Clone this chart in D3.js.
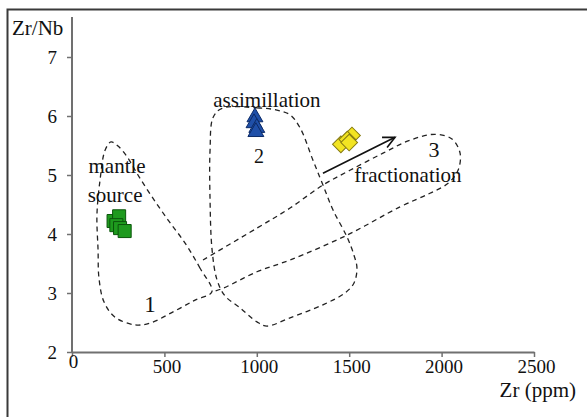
<!DOCTYPE html>
<html>
<head>
<meta charset="utf-8">
<script src="https://cdn.jsdelivr.net/npm/d3@7"></script>
<style>
  html, body { margin: 0; padding: 0; background: #fff; }
  svg { display: block; font-family: "Liberation Serif", "Times New Roman", serif; }
</style>
</head>
<body>
<div id="chart"></div>
<script>
// ---- data (Zr in ppm, Zr/Nb ratio) ----
const xTicks = [0, 500, 1000, 1500, 2000, 2500];
const yTicks = [2, 3, 4, 5, 6, 7];

const mantleZr    = [225, 255, 240, 260, 285];
const mantleRatio = [4.22, 4.30, 4.15, 4.10, 4.05];

const assimZr    = [990, 985, 1000, 995];
const assimRatio = [5.98, 5.88, 5.80, 5.73];

const fracZr    = [1455, 1515, 1490, 1500];
const fracRatio = [5.52, 5.67, 5.60, 5.55];

// dashed field outlines [Zr, Zr/Nb]
const field1 = [[757,3.02],[693,3.42],[611,3.85],[519,4.24],[433,4.63],[357,5.00],[298,5.31],
  [249,5.49],[211,5.56],[179,5.42],[152,4.92],[135,4.32],[141,3.73],[146,3.25],[173,2.85],
  [233,2.59],[341,2.46],[422,2.49],[547,2.68],[666,2.88]];
const field2 = [[812,6.13],[1001,6.14],[1109,6.10],[1180,6.02],[1234,5.80],[1304,5.25],[1358,4.83],
  [1412,4.41],[1488,3.95],[1526,3.64],[1542,3.42],[1526,3.17],[1477,3.00],[1358,2.80],[1180,2.58],
  [1055,2.44],[1001,2.51],[909,2.75],[828,2.95],[785,3.22],[758,3.73],[747,4.58],[747,5.42],[764,5.98]];
const field3 = [[709,3.56],[1001,4.10],[1180,4.44],[1358,4.83],[1504,5.08],[1683,5.37],[1829,5.59],
  [1965,5.69],[2056,5.61],[2100,5.37],[2089,5.08],[2035,4.86],[1937,4.69],[1775,4.46],[1488,3.98],
  [1180,3.56],[1001,3.36],[817,3.08],[757,3.02]];

const arrowFrom = [1358, 5.03];
const arrowTo   = [1748, 5.64];

const labels = [
  { text: "mantle", zr: 244, r: 5.03, size: 21 },
  { text: "source", zr: 233, r: 4.54, size: 21 },
  { text: "assimillation", zr: 1055, r: 6.15, size: 21 },
  { text: "2", zr: 1012, r: 5.20, size: 20 },
  { text: "1", zr: 422, r: 2.68, size: 23 },
  { text: "3", zr: 1959, r: 5.30, size: 22 },
  { text: "fractionation", zr: 1818, r: 4.88, size: 21 }
];

const width = 587, height = 417;
const svg = d3.select("#chart").append("svg")
  .attr("width", width)
  .attr("height", height);

// frame
svg.append("rect")
  .attr("x", 7.5).attr("y", 9.5)
  .attr("width", 620).attr("height", 500)
  .attr("fill", "none")
  .attr("stroke", "#3a3a3a")
  .attr("stroke-width", 2);

const x = d3.scaleLinear().domain([0, 2500]).range([72, 534]);
const y = d3.scaleLinear().domain([2, 7]).range([352, 57]);
const yAxisTop = 7.68;

// axes
const axisColor = "#707070";
const serif = "Liberation Serif, Times New Roman, serif";

const gx = svg.append("g")
  .attr("transform", `translate(0,${y(2)})`)
  .call(d3.axisBottom(x).tickValues(xTicks).tickSize(5).tickSizeOuter(0).tickFormat(d3.format("d")));
gx.select(".domain").attr("stroke", axisColor).attr("stroke-width", 2);
gx.selectAll(".tick line").attr("stroke", axisColor).attr("stroke-width", 1.5);
gx.selectAll(".tick text")
  .attr("fill", "#111")
  .attr("font-family", serif)
  .attr("font-size", 19)
  .attr("dx", 2)
  .attr("y", 8)
  .attr("dy", "0.71em")
  .filter(d => d === 0).attr("dy", "0.4em").attr("dx", 1);

const gy = svg.append("g")
  .attr("transform", `translate(${x(0)},0)`)
  .call(d3.axisLeft(y).tickValues(yTicks).tickSize(5).tickSizeOuter(0).tickFormat(d3.format("d")));
gy.select(".domain").remove();
gy.selectAll(".tick line").attr("stroke", axisColor).attr("stroke-width", 1.5);
gy.selectAll(".tick text")
  .attr("fill", "#111")
  .attr("font-family", serif)
  .attr("font-size", 19)
  .attr("x", -15);

svg.append("line")
  .attr("x1", x(0)).attr("x2", x(0))
  .attr("y1", y(2) + 1).attr("y2", y(yAxisTop))
  .attr("stroke", axisColor)
  .attr("stroke-width", 2);

// axis titles
svg.append("text")
  .attr("x", 12).attr("y", 35)
  .attr("font-size", 21)
  .attr("fill", "#111")
  .text("Zr/Nb");

svg.append("text")
  .attr("x", 576).attr("y", 397)
  .attr("text-anchor", "end")
  .attr("font-size", 21)
  .attr("fill", "#111")
  .text("Zr (ppm)");

// dashed fields
const closedLine = d3.line()
  .x(d => x(d[0])).y(d => y(d[1]))
  .curve(d3.curveCatmullRomClosed.alpha(0.5));
const openLine = d3.line()
  .x(d => x(d[0])).y(d => y(d[1]))
  .curve(d3.curveCatmullRom.alpha(0.5));

const fields = svg.append("g")
  .attr("fill", "none")
  .attr("stroke", "#222")
  .attr("stroke-width", 1.3)
  .attr("stroke-dasharray", "5,4");
fields.append("path").attr("d", closedLine(field1));
fields.append("path").attr("d", closedLine(field2));
fields.append("path").attr("d", openLine(field3));

// markers
svg.append("g").selectAll("path")
  .data(d3.zip(mantleZr, mantleRatio))
  .enter().append("path")
  .attr("transform", d => `translate(${x(d[0])},${y(d[1])})`)
  .attr("d", d3.symbol(d3.symbolSquare, 170)())
  .attr("fill", "#1e9a1e")
  .attr("stroke", "#0b560b")
  .attr("stroke-width", 1);

svg.append("g").selectAll("path")
  .data(d3.zip(assimZr, assimRatio))
  .enter().append("path")
  .attr("transform", d => `translate(${x(d[0])},${y(d[1])})`)
  .attr("d", d3.symbol(d3.symbolTriangle, 110)())
  .attr("fill", "#1f4fa8")
  .attr("stroke", "#0c2a66")
  .attr("stroke-width", 1);

svg.append("g").selectAll("path")
  .data(d3.zip(fracZr, fracRatio))
  .enter().append("path")
  .attr("transform", d => `translate(${x(d[0])},${y(d[1])}) rotate(45)`)
  .attr("d", d3.symbol(d3.symbolSquare, 140)())
  .attr("fill", "#f2e422")
  .attr("stroke", "#857a12")
  .attr("stroke-width", 1);

// arrow
const ax1 = x(arrowFrom[0]), ay1 = y(arrowFrom[1]);
const ax2 = x(arrowTo[0]), ay2 = y(arrowTo[1]);
const ang = Math.atan2(ay2 - ay1, ax2 - ax1);
const head = 13, spread = 0.45;
svg.append("line")
  .attr("x1", ax1).attr("y1", ay1).attr("x2", ax2).attr("y2", ay2)
  .attr("stroke", "#111").attr("stroke-width", 1.6);
svg.append("path")
  .attr("d", `M${ax2 - head * Math.cos(ang - spread)},${ay2 - head * Math.sin(ang - spread)}` +
             `L${ax2},${ay2}` +
             `L${ax2 - head * Math.cos(ang + spread)},${ay2 - head * Math.sin(ang + spread)}`)
  .attr("fill", "none").attr("stroke", "#111").attr("stroke-width", 1.6);

// annotations
svg.append("g").selectAll("text")
  .data(labels)
  .enter().append("text")
  .attr("x", d => x(d.zr))
  .attr("y", d => y(d.r))
  .attr("text-anchor", "middle")
  .attr("font-size", d => d.size)
  .attr("fill", "#111")
  .text(d => d.text);
</script>
</body>
</html>
